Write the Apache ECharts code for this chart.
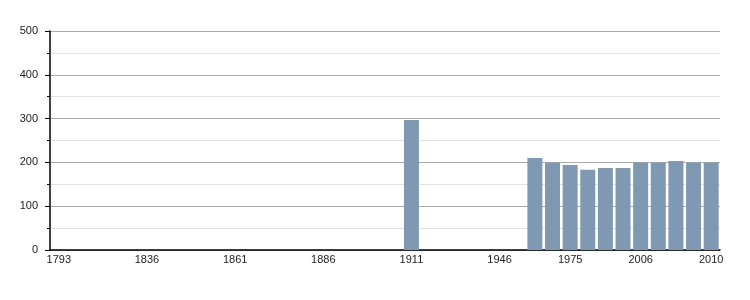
<!DOCTYPE html>
<html>
<head>
<meta charset="utf-8">
<script src="https://cdn.jsdelivr.net/npm/echarts@6/dist/echarts.min.js"></script>
<style>html,body{margin:0;padding:0;background:#fff;}#c{width:750px;height:300px;}</style>
</head>
<body>
<div id="c"></div>
<script>
var years = ['1793','1800','1806','1821','1831','1836','1841','1846','1851','1856','1861','1866','1872','1876','1881','1886','1891','1896','1901','1906','1911','1921','1926','1931','1936','1946','1954','1962','1968','1975','1982','1990','1999','2006','2007','2008','2009','2010'];
var population = [null,null,null,null,null,null,null,null,null,null,null,null,null,null,null,null,null,null,null,null,297,null,null,null,null,null,null,210,200,194,183,187,187,200,200,203,200,200];
var shownLabels = ['1793','1836','1861','1886','1911','1946','1975','2006','2010'];
var yTicks = [0,100,200,300,400,500];

var chart = echarts.init(document.getElementById('c'), null, {renderer:'canvas'});
chart.setOption({
  animation: false,
  backgroundColor: '#ffffff',
  grid: {left: 50, right: 30, top: 31, bottom: 50},
  xAxis: {
    type: 'category',
    data: years,
    boundaryGap: true,
    axisLine: {show: true, lineStyle: {color: '#000', width: 1.5}},
    axisTick: {show: false},
    axisLabel: {
      interval: function(i, v){ return shownLabels.indexOf(v) >= 0; },
      color: '#222', fontSize: 11, fontFamily: 'Liberation Sans, Arial, sans-serif', margin: 4
    },
    splitLine: {show: false}
  },
  yAxis: {
    type: 'value',
    min: yTicks[0], max: yTicks[yTicks.length-1], interval: 100,
    axisLine: {show: true, lineStyle: {color: '#000', width: 1.5}},
    axisTick: {show: true, length: 5, lineStyle: {color: '#000'}},
    minorTick: {show: true, splitNumber: 2, length: 3, lineStyle: {color: '#000'}},
    axisLabel: {color: '#222', fontSize: 11, fontFamily: 'Liberation Sans, Arial, sans-serif', margin: 12},
    splitLine: {show: true, lineStyle: {color: '#aaaaaa', width: 1}},
    minorSplitLine: {show: true, lineStyle: {color: '#e3e3e3', width: 1}}
  },
  series: [{
    type: 'bar',
    data: population,
    barCategoryGap: '15%',
    itemStyle: {color: '#7f99b2'}
  }]
});
</script>
</body>
</html>
